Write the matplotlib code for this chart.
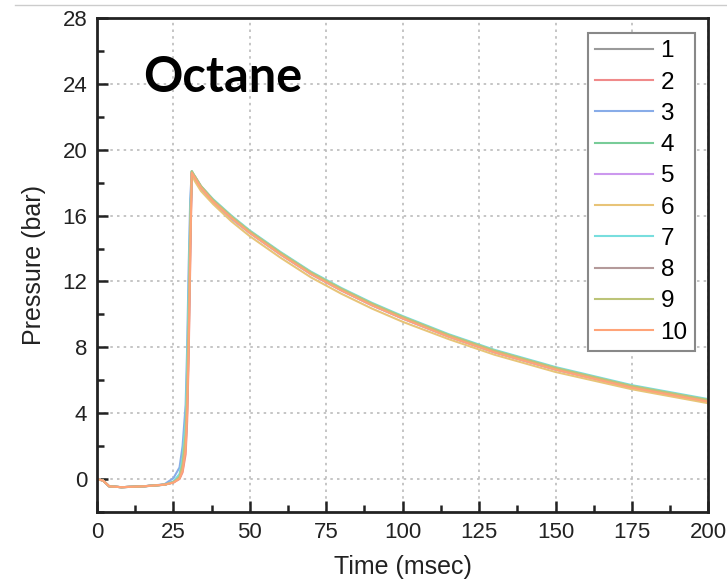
import matplotlib.pyplot as plt
from matplotlib.lines import Line2D
from matplotlib.ticker import MultipleLocator

plt.rcParams['font.family'] = ['Liberation Sans', 'DejaVu Sans']

# time axis shared by all runs (msec)
time = [0, 2, 4, 8, 15, 22, 25, 27, 28, 29, 29.5, 30, 30.5, 31, 32, 34, 38, 44,
        50, 60, 70, 80, 90, 100, 115, 130, 150, 175, 200]

# pressure (bar) for runs 1..10
run1 = [0.0, -0.1, -0.45, -0.5, -0.45, -0.35, -0.2, 0.1, 0.8, 2.5, 5.0, 9.5, 15.0, 18.6, 18.3, 17.7, 16.9, 15.9,
        15.0, 13.7, 12.5, 11.5, 10.6, 9.8, 8.7, 7.75, 6.7, 5.6, 4.75]
run2 = [0.0, -0.1, -0.45, -0.5, -0.45, -0.35, -0.22, 0.0, 0.4, 1.5, 3.5, 7.5, 13.0, 18.5, 18.4, 17.8, 16.95, 15.95,
        15.05, 13.75, 12.55, 11.5, 10.6, 9.8, 8.7, 7.7, 6.65, 5.55, 4.7]
run3 = [0.0, -0.1, -0.45, -0.5, -0.45, -0.33, 0.05, 0.7, 2.0, 4.5, 8.0, 13.0, 17.0, 18.7, 18.3, 17.6, 16.8, 15.8,
        14.95, 13.65, 12.45, 11.45, 10.55, 9.75, 8.65, 7.7, 6.65, 5.6, 4.75]
run4 = [0.0, -0.1, -0.45, -0.5, -0.45, -0.35, -0.18, 0.15, 1.0, 3.0, 6.0, 10.5, 15.5, 18.7, 18.35, 17.75, 16.95, 15.95,
        15.05, 13.75, 12.55, 11.55, 10.65, 9.85, 8.75, 7.8, 6.75, 5.65, 4.8]
run5 = [0.0, -0.1, -0.45, -0.5, -0.45, -0.35, -0.2, 0.1, 0.7, 2.3, 4.8, 9.0, 14.5, 18.6, 18.3, 17.7, 16.85, 15.85,
        14.95, 13.65, 12.45, 11.45, 10.55, 9.75, 8.65, 7.7, 6.65, 5.55, 4.7]
run6 = [0.0, -0.1, -0.45, -0.5, -0.45, -0.35, -0.2, 0.1, 0.9, 2.8, 5.5, 10.0, 15.2, 18.5, 18.1, 17.5, 16.7, 15.65,
        14.75, 13.45, 12.25, 11.25, 10.35, 9.55, 8.5, 7.55, 6.5, 5.45, 4.6]
run7 = [0.0, -0.1, -0.45, -0.5, -0.45, -0.35, -0.15, 0.3, 1.3, 3.5, 6.8, 11.5, 16.0, 18.7, 18.4, 17.8, 17.0, 16.0,
        15.1, 13.8, 12.6, 11.6, 10.7, 9.9, 8.8, 7.85, 6.8, 5.7, 4.85]
run8 = [0.0, -0.1, -0.45, -0.5, -0.45, -0.35, -0.2, 0.05, 0.6, 2.0, 4.2, 8.5, 14.0, 18.6, 18.35, 17.75, 16.9, 15.9,
        15.0, 13.7, 12.5, 11.5, 10.6, 9.8, 8.7, 7.75, 6.7, 5.6, 4.75]
run9 = [0.0, -0.1, -0.45, -0.5, -0.45, -0.35, -0.2, 0.12, 0.9, 2.7, 5.3, 9.8, 15.2, 18.7, 18.4, 17.8, 16.95, 15.95,
        15.05, 13.75, 12.55, 11.55, 10.65, 9.85, 8.75, 7.8, 6.75, 5.65, 4.8]
run10 = [0.0, -0.1, -0.45, -0.5, -0.45, -0.35, -0.22, 0.02, 0.5, 1.8, 4.0, 8.0, 13.5, 18.6, 18.3, 17.7, 16.85, 15.85,
         14.95, 13.65, 12.45, 11.45, 10.55, 9.75, 8.65, 7.7, 6.65, 5.55, 4.7]

runs = [run1, run2, run3, run4, run5, run6, run7, run8, run9, run10]
labels = ["1", "2", "3", "4", "5", "6", "7", "8", "9", "10"]
colors = ['#9a9a9a', '#f08a8a', '#88ace8', '#78cc98', '#cc98ee',
          '#e8c478', '#78dede', '#b49a9a', '#bcc478', '#ffa478']

fig = plt.figure(figsize=(7.27, 5.87), dpi=100)
ax = fig.add_axes([0.1334, 0.128, 0.841, 0.841])

for p, lab, c in zip(runs, labels, colors):
    ax.plot(time, p, color=c, lw=1.5, label=lab)

ax.set_xlim(0, 200)
ax.set_ylim(-2, 28)
ax.xaxis.set_major_locator(MultipleLocator(25))
ax.xaxis.set_minor_locator(MultipleLocator(12.5))
ax.yaxis.set_major_locator(MultipleLocator(4))
ax.yaxis.set_minor_locator(MultipleLocator(2))
ax.tick_params(which='major', direction='in', length=8, width=1.8, labelsize=16, colors='#222222', pad=7)
ax.tick_params(which='minor', direction='in', length=5, width=1.8, colors='#222222')
ax.grid(True, which='major', linestyle=(0, (1.5, 2.5)), color='#bbbbbb', lw=1.2)
for s in ax.spines.values():
    s.set_linewidth(2)
    s.set_color('#222222')

ax.set_xlabel("Time (msec)", fontsize=18, color='#222222', labelpad=9)
ax.set_ylabel("Pressure (bar)", fontsize=18, color='#222222', labelpad=12)

ax.text(0.075, 0.925, "Octane", transform=ax.transAxes, fontsize=35, fontweight='bold',
        family='Lato', va='top', ha='left')

leg = ax.legend(loc='upper right', bbox_to_anchor=(0.978, 0.970), fontsize=17.5, handlelength=2.4,
                labelspacing=0.38, borderpad=0.3, handletextpad=0.3, borderaxespad=0,
                fancybox=False, edgecolor='#888888', framealpha=1)
leg.get_frame().set_linewidth(1.5)

fig.add_artist(Line2D([0.02, 1.0], [0.992, 0.992], transform=fig.transFigure, color='#cccccc', lw=1))

plt.savefig("out.png", dpi=100)
